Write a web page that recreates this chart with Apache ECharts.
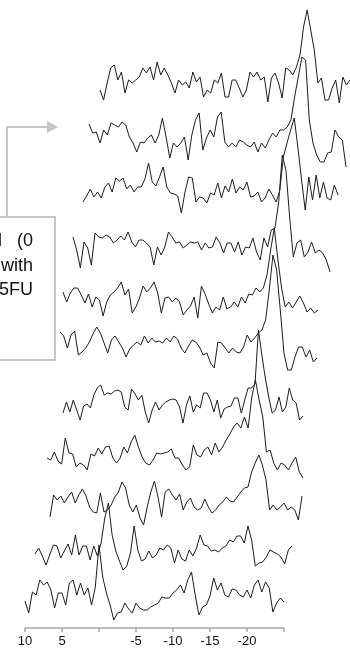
<!DOCTYPE html>
<html><head><meta charset="utf-8">
<script src="https://cdn.jsdelivr.net/npm/echarts@6/dist/echarts.min.js"></script>
<style>html,body{margin:0;padding:0;background:#fff}#c{width:350px;height:648px}</style>
</head><body><div id="c"></div>
<script>
// chemical shift axis (ppm), shared by every spectrum
const ppm = [10,9.5,9,8.5,8,7.5,7,6.5,6,5.5,5,4.5,4,3.5,3,2.5,2,1.5,1,0.5,0,
  -0.5,-1,-1.5,-2,-2.5,-3,-3.5,-4,-4.5,-5,-5.5,-6,-6.5,-7,-7.5,-8,-8.5,-9,-9.5,-10,
  -10.5,-11,-11.5,-12,-12.5,-13,-13.5,-14,-14.5,-15,-15.5,-16,-16.5,-17,-17.5,-18,
  -18.5,-19,-19.5,-20,-20.5,-21,-21.5,-22,-22.5,-23,-23.5,-24,-24.5,-25];
const axisTicks = [10,5,-5,-10,-15,-20];

// spectra, bottom (first) to top (last); intensity in arbitrary units
const spec0 = [-3,-15,6,3,18,13,16,8,-10,5, 5,-7,15,18,3,15,3,10,-7,11, 53,21,5,-7,-22,-15,-14,-5,-11,-15,
  -5,-10,-12,-12,-9,-7,-5,1,0,0, 5,8,13,5,18,26,3,-17,-9,-7, 2,20,8,15,3,1,9,8,3,1, 8,0,13,18,6,16,10,-14,-5,0, -4];
const spec1 = [-1,5,-3,-12,-2,8,7,-5,2,9, -2,18,-2,7,7,-7,7,-3,10,35, 50,18,2,-8,-17,-13,0,27,3,-8,
  -6,2,-5,-2,5,3,8,5,-10,3, -6,-8,3,-3,5,18,8,7,2,3, 1,5,7,13,11,17,17,10,27,13, -13,-10,-9,-4,3,1,-1,-4,-11,3, 7];
const spec2 = [-17,5,0,4,-3,3,8,-3,5,11, 4,-7,-12,-13,7,-12,-10,-5,3,8, 18,12,-5,-12,-5,-18,-25,-7,8,19,
  3,-17,8,11,5,0,6,-10,-2,2, -7,-10,-8,1,-7,-13,-10,-5,-2,3, -1,-2,3,8,12,13,28,37,45,35, 20,-10,-5,-10,-7,-3,-10,-7,-10,-20, 4];
const spec3 = [0,-2,6,-3,-6,20,5,4,-9,-5, -7,-12,4,2,10,4,11,12,0,-5, 0,11,5,16,23,11,1,-5,-7,-2,
  5,4,5,6,9,0,0,-7,-12,-9, 13,3,1,8,11,3,15,6,11,18, 24,31,35,30,41,30,61,78,58,41, 6,8,-5,-12,-5,-7,-12,-5,1,-14, -20];
const spec4 = [-13,-2,-12,0,-10,-20,-6,-4,-8,5, 12,15,5,7,6,9,10,8,-7,-10, 11,6,0,5,-12,-23,-10,-2,-10,-5,
  -2,0,1,0,-7,-23,-5,4,-12,-5, -8,7,7,0,-12,0,-18,-9,-7,-6, 2,2,-13,0,12,12,16,70,45,22, 3,-13,-10,3,-12,-7,12,0,-3,-20, -16];
const spec5 = [16,12,0,13,17,-7,-4,0,6,14, 21,15,5,-5,8,12,6,0,-9,-1, 3,6,3,12,5,10,6,7,5,10,
  6,12,9,0,-5,2,8,6,1,-7, -5,-15,-20,6,5,0,-5,0,-4,-5, 1,13,6,10,15,18,28,58,93,78, 38,-5,-22,-22,-9,1,1,-9,-2,-14, -10];
const spec6 = [6,-4,5,10,10,3,-5,4,-9,1, -2,-18,-4,3,6,10,16,3,9,-15, -9,0,12,6,10,16,5,-15,0,1,
  -4,0,-4,-17,-12,-8,1,-20,12,4, -6,-15,-9,-12,1,-11,-9,-4,-9,1, -5,4,3,10,6,10,23,48,70,38, 10,-9,-4,-10,-4,2,-5,-14,-10,-15, -12];
const spec7 = [13,0,-18,8,2,-15,17,13,12,15, 13,7,10,14,10,18,8,3,10,10, 7,3,-15,3,-5,3,18,13,7,8,
  2,5,8,7,8,0,7,2,3,13, 7,-3,7,7,-2,8,-5,3,2,12, -2,-10,12,3,20,22,47,95,80,33, -7,7,10,-7,-2,8,-3,0,-3,-10, -22];
const spec8 = [-5,1,8,0,5,-1,10,14,5,19, 16,19,8,12,5,10,10,18,34,15, 11,20,30,10,4,3,1,-16,5,20,
  19,-5,0,-1,-6,4,2,14,-1,11, 5,18,4,10,7,15,0,1,5,-5, -1,8,2,-5,6,40,54,67,79,49, 17,-13,20,-3,22,-1,15,-1,-3,12, 2];
const spec9 = [16,7,8,-3,10,5,17,15,13,18, 15,3,-3,-12,-2,-3,2,5,-3,5, 22,3,-18,-3,-7,-3,3,-20,5,20,
  27,-10,2,10,3,23,28,-2,-7,-3, -7,0,-2,-5,-7,-2,-12,-3,-8,0, 7,3,10,10,13,20,43,63,83,80, 20,-3,-15,-22,-22,-13,-12,10,3,0, -27];
const spec10 = [-5,-15,2,17,20,5,13,-8,5,2, 5,8,17,12,18,5,23,10,17,10, 2,-8,5,0,3,-3,13,3,8,-12,
  -5,-8,5,2,12,-12,-12,5,5,-3, -12,-5,13,8,13,5,8,-17,7,12, 2,-13,17,15,10,18,30,58,75,55, 35,2,7,-15,-15,-3,5,-18,8,0, 5];
const spectra = [spec0,spec1,spec2,spec3,spec4,spec5,spec6,spec7,spec8,spec9,spec10];

// layout of the stacked (waterfall) panels
const panelLeft  = [25,35,50,47,63,60,63,73,83,89,100];
const panelWidth = [259,257,252,256,240,257,255,257,255,257,257];
const panelBase  = [598,553,500,458,400,348,298,250,197,140,85];
const yMin = -30, yMax = 70;

const FONT = "Arial, 'Liberation Sans', sans-serif";
const grid = [], xAxis = [], yAxis = [], series = [];
spectra.forEach((s, i) => {
  grid.push({left: panelLeft[i], width: panelWidth[i], top: panelBase[i] - yMax, height: yMax - yMin});
  const isBottom = i === 0;
  xAxis.push({
    type: 'value', gridIndex: i, min: -25, max: 10, interval: 5, inverse: true,
    show: isBottom,
    axisLine: {show: isBottom, onZero: false, lineStyle: {color: '#a8a8a8', width: 1.5}},
    axisTick: {show: isBottom, length: 4, lineStyle: {color: '#a8a8a8', width: 1.5}},
    splitLine: {show: false},
    axisLabel: {show: isBottom, margin: 7, color: '#111', fontSize: 13, fontFamily: FONT,
      formatter: v => axisTicks.indexOf(v) >= 0 ? String(v) : ''}
  });
  yAxis.push({type: 'value', gridIndex: i, min: yMin, max: yMax, show: false, splitLine: {show: false}});
  series.push({
    type: 'line', xAxisIndex: i, yAxisIndex: i, clip: false, showSymbol: false, silent: true,
    data: ppm.map((p, k) => [p, s[k]]),
    lineStyle: {color: '#1c1c1c', width: 1}
  });
});

const boxGrey = '#c6c6c6';
const chart = echarts.init(document.getElementById('c'), null, {renderer: 'canvas'});
chart.setOption({
  animation: false,
  backgroundColor: '#fff',
  grid, xAxis, yAxis, series,
  graphic: [
    {type: 'rect', shape: {x: -10, y: 217, width: 65, height: 143},
     style: {fill: 'none', stroke: boxGrey, lineWidth: 2}},
    {type: 'polyline', shape: {points: [[7, 217], [7, 127], [48, 127]]},
     style: {fill: 'none', stroke: boxGrey, lineWidth: 2}},
    {type: 'polygon', shape: {points: [[47, 121], [58, 127], [47, 133]]},
     style: {fill: boxGrey}},
    {type: 'text', style: {text: 'Control   (0', x: 33, y: 241, align: 'right', verticalAlign: 'middle',
      font: '18px ' + FONT, fill: '#111'}},
    {type: 'text', style: {text: 'with', x: 33, y: 266, align: 'right', verticalAlign: 'middle',
      font: '18px ' + FONT, fill: '#111'}},
    {type: 'text', style: {text: '5FU', x: 33, y: 290, align: 'right', verticalAlign: 'middle',
      font: '18px ' + FONT, fill: '#111'}}
  ]
});
</script>
</body></html>
